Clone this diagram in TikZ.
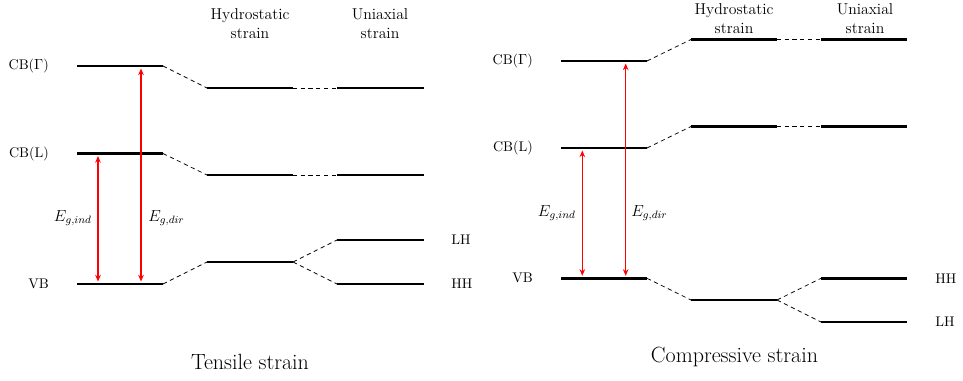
\documentclass[tikz,border=0pt]{standalone}
\usetikzlibrary{arrows.meta}
\tikzset{
  level/.style={line width=2pt},
  link/.style={dash pattern=on 3.2pt off 2.6pt, line width=0.55pt},
  gap/.style={red, line width=0.8pt, {Stealth[length=5pt,width=4.2pt]}-{Stealth[length=5pt,width=4.2pt]}},
  band/.style={font=\fontsize{10.5}{12}\selectfont, inner sep=0pt},
  head/.style={font=\fontsize{11.8}{14.2}\selectfont, align=center, inner sep=0pt},
  caption/.style={font=\fontsize{16.5}{19}\selectfont, inner sep=0pt},
  gaplabel/.style={font=\fontsize{11.5}{13}\selectfont, inner sep=0pt}
}
% energy level: name, x-start, x-end, y
\newcommand\energylevel[4]{%
  \coordinate (#1w) at (#2,#4);
  \coordinate (#1e) at (#3,#4);
  \draw[level] (#1w) -- (#1e);}
\begin{document}
\begin{tikzpicture}[x=0.75pt,y=-0.75pt]
\useasboundingbox (0,0) rectangle (963,381);

% ---------------- tensile strain ----------------
\energylevel{tG}{77}{163}{66}
\energylevel{tGh}{207}{293}{88}
\energylevel{tGu}{337}{424}{88}
\energylevel{tL}{77}{163}{153.5}
\energylevel{tLh}{207}{293}{175}
\energylevel{tLu}{337}{424}{175}
\energylevel{tV}{77}{163}{284}
\energylevel{tVh}{207}{293}{262}
\energylevel{tLH}{337}{424}{240}
\energylevel{tHH}{337}{424}{284}

\draw[link] (tGe) -- (tGhw);
\draw[link] (tGhe) -- (tGuw);
\draw[link] (tLe) -- (tLhw);
\draw[link] (tLhe) -- (tLuw);
\draw[link] (tVe) -- (tVhw);
\draw[link] (tVhe) -- (tLHw);
\draw[link] (tVhe) -- (tHHw);

\node[band, anchor=east] (tGlab) at (49,66) {CB($\Gamma$)};
\node[band, anchor=east] (tLlab) at (49,153.5) {CB(L)};
\node[band, anchor=east] (tVlab) at (49,284) {VB};
\node[band, anchor=west] (tLHlab) at (451,240) {LH};
\node[band, anchor=west] (tHHlab) at (451,284) {HH};

\coordinate (tIndTop) at (98,156);
\coordinate (tIndBot) at (98,281.5);
\coordinate (tDirTop) at (141,68.5);
\coordinate (tDirBot) at (141,281.5);
\draw[gap] (tIndBot) -- (tIndTop);
\draw[gap] (tDirBot) -- (tDirTop);
\node[gaplabel, anchor=east] (tIndlab) at (92,218) {$E_{g,ind}$};
\node[gaplabel, anchor=west] (tDirlab) at (148,218) {$E_{g,dir}$};

\node[head] (tHydro) at (250,24) {Hydrostatic\\strain};
\node[head] (tUni) at (380,24) {Uniaxial\\strain};
\node[caption] (tCap) at (250,362) {Tensile strain};

% ---------------- compressive strain ----------------
\energylevel{cG}{561}{647}{61}
\energylevel{cGh}{691}{777}{39.5}
\energylevel{cGu}{821}{907}{39.5}
\energylevel{cL}{561}{647}{148}
\energylevel{cLh}{691}{777}{126.5}
\energylevel{cLu}{821}{907}{126.5}
\energylevel{cV}{561}{647}{278.3}
\energylevel{cVh}{691}{777}{300}
\energylevel{cHH}{821}{907}{278.3}
\energylevel{cLH}{821}{907}{322}

\draw[link] (cGe) -- (cGhw);
\draw[link] (cGhe) -- (cGuw);
\draw[link] (cLe) -- (cLhw);
\draw[link] (cLhe) -- (cLuw);
\draw[link] (cVe) -- (cVhw);
\draw[link] (cVhe) -- (cHHw);
\draw[link] (cVhe) -- (cLHw);

\node[band, anchor=east] (cGlab) at (533,61) {CB($\Gamma$)};
\node[band, anchor=east] (cLlab) at (533,148) {CB(L)};
\node[band, anchor=east] (cVlab) at (533,278.3) {VB};
\node[band, anchor=west] (cHHlab) at (935,278.3) {HH};
\node[band, anchor=west] (cLHlab) at (935,322) {LH};

\coordinate (cIndTop) at (582.3,150.5);
\coordinate (cIndBot) at (582.3,275.8);
\coordinate (cDirTop) at (625.7,63.5);
\coordinate (cDirBot) at (625.7,275.8);
\draw[gap] (cIndBot) -- (cIndTop);
\draw[gap] (cDirBot) -- (cDirTop);
\node[gaplabel, anchor=east] (cIndlab) at (576,213) {$E_{g,ind}$};
\node[gaplabel, anchor=west] (cDirlab) at (631,213) {$E_{g,dir}$};

\node[head] (cHydro) at (734,18.5) {Hydrostatic\\strain};
\node[head] (cUni) at (865,18.5) {Uniaxial\\strain};
\node[caption] (cCap) at (734.5,357) {Compressive strain};
\end{tikzpicture}
\end{document}
